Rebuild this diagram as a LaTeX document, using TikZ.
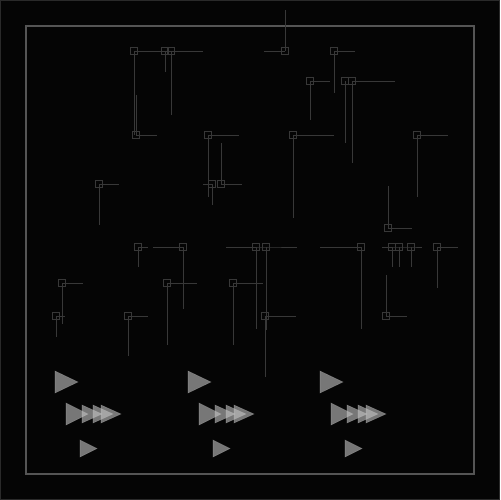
\documentclass[tikz,border=0pt]{standalone}
\usepackage{tikz}
\usetikzlibrary{calc}

\definecolor{bgcol}{HTML}{050505}
\definecolor{edgecol}{HTML}{2A2A2A}
\definecolor{framecol}{HTML}{555555}
\definecolor{wirecol}{HTML}{383838}
\definecolor{tipcol}{HTML}{C4C4C4}

\tikzset{
	marker/.style = {draw = wirecol, line width = 0.5pt, minimum size = 1.3mm, inner sep = 0pt, rectangle},
	wire/.style = {draw = wirecol, line width = 0.5pt},
	tip/.style = {fill = tipcol, fill opacity = 0.6, draw = tipcol, draw opacity = 0.3, line width = 0.3pt}
}

\begin{document}
\begin{tikzpicture}[x = 0.02cm, y = -0.02cm]
			\def\W{500};
			\def\M{26};

			\begin{scope}
				\fill [bgcol] (0,0) rectangle (\W,\W);
				\useasboundingbox (0,0) rectangle (\W,\W);
				\draw [edgecol, line width = 0.8pt] (0.7,0.7) rectangle (\W-0.7,\W-0.7);
				\draw [framecol, line width = 0.8pt] (\M,\M) rectangle (\W-\M,\W-\M);
			\end{scope}

			% markers
			\begin{scope}
				\node [marker] (a1) at (134,51) {};
				\node [marker] (a2) at (165,51) {};
				\node [marker] (a3) at (171,51) {};
				\node [marker] (a4) at (285,51) {};
				\node [marker] (a5) at (334,51) {};

				\node [marker] (b1) at (310,81) {};
				\node [marker] (b2) at (345,81) {};
				\node [marker] (b3) at (352,81) {};

				\node [marker] (c1) at (136,135) {};
				\node [marker] (c2) at (208,135) {};
				\node [marker] (c3) at (293,135) {};
				\node [marker] (c4) at (417,135) {};

				\node [marker] (d1) at (99,184) {};
				\node [marker] (d2) at (212,184) {};
				\node [marker] (d3) at (221,184) {};
				\node [marker] (d4) at (388,228) {};

				\node [marker] (e1) at (138,247) {};
				\node [marker] (e2) at (183,247) {};
				\node [marker] (e3) at (256,247) {};
				\node [marker] (e4) at (266,247) {};
				\node [marker] (e5) at (361,247) {};
				\node [marker] (e6) at (392,247) {};
				\node [marker] (e7) at (399,247) {};
				\node [marker] (e8) at (411,247) {};
				\node [marker] (e9) at (437,247) {};

				\node [marker] (f1) at (62,283) {};
				\node [marker] (f2) at (167,283) {};
				\node [marker] (f3) at (233,283) {};

				\node [marker] (g1) at (56,316) {};
				\node [marker] (g2) at (128,316) {};
				\node [marker] (g3) at (265,316) {};
				\node [marker] (g4) at (386,316) {};
			\end{scope}

			% wires
			\begin{scope}[wire]
				\draw (a1.center) -- (203,51);
				\draw (a1.center) -- ++(0,84);
				\draw (a2.center) -- ++(0,21);
				\draw (a3.center) -- ++(0,64);
				\draw (a4.center) -- ++(-21,0);
				\draw (a4.center) -- (285,10);
				\draw (a5.center) -- ++(21,0);
				\draw (a5.center) -- ++(0,42);

				\draw (b1.center) -- ++(20,0);
				\draw (b1.center) -- ++(0,39);
				\draw (b2.center) -- ++(0,62);
				\draw (b3.center) -- ++(43,0);
				\draw (b3.center) -- ++(0,82);

				\draw (c1.center) -- ++(21,0);
				\draw (c1.center) -- ++(0,-40);
				\draw (c2.center) -- ++(31,0);
				\draw (c2.center) -- ++(0,62);
				\draw (c3.center) -- ++(41,0);
				\draw (c3.center) -- ++(0,83);
				\draw (c4.center) -- ++(31,0);
				\draw (c4.center) -- ++(0,62);

				\draw (d1.center) -- ++(20,0);
				\draw (d1.center) -- ++(0,41);
				\draw (d2.center) -- ++(-9,0);
				\draw (d2.center) -- ++(0,21);
				\draw (d3.center) -- ++(21,0);
				\draw (d3.center) -- ++(0,-41);
				\draw (d4.center) -- ++(24,0);
				\draw (d4.center) -- ++(0,-42);

				\draw (e1.center) -- ++(10,0);
				\draw (e1.center) -- ++(0,20);
				\draw (e2.center) -- ++(-30,0);
				\draw (e2.center) -- ++(0,62);
				\draw (e3.center) -- ++(-30,0);
				\draw (e3.center) -- (e4.center) -- ++(31,0);
				\draw (e3.center) -- ++(0,82);
				\draw (e4.center) -- ++(0,83);
				\draw (e5.center) -- ++(-41,0);
				\draw (e5.center) -- ++(0,82);
				\draw (e6.center) -- ++(-10,0);
				\draw (e6.center) -- (e8.center) -- ++(11,0);
				\draw (e6.center) -- ++(0,20);
				\draw (e7.center) -- ++(0,20);
				\draw (e8.center) -- ++(0,20);
				\draw (e9.center) -- ++(21,0);
				\draw (e9.center) -- ++(0,41);

				\draw (f1.center) -- ++(21,0);
				\draw (f1.center) -- ++(0,41);
				\draw (f2.center) -- ++(30,0);
				\draw (f2.center) -- ++(0,62);
				\draw (f3.center) -- ++(30,0);
				\draw (f3.center) -- ++(0,62);

				\draw (g1.center) -- ++(9,0);
				\draw (g1.center) -- ++(0,21);
				\draw (g2.center) -- ++(20,0);
				\draw (g2.center) -- ++(0,40);
				\draw (g3.center) -- ++(31,0);
				\draw (g3.center) -- ++(0,61);
				\draw (g4.center) -- ++(21,0);
				\draw (g4.center) -- ++(0,-41);
			\end{scope}

			% arrow tips
			\foreach \dx in {0,133,265} {
				\begin{scope}[shift = {(\dx,0)}]
					\fill [tip] (55,371) -- (78,382) -- (55,393) -- cycle;

					\fill [tip] (66,403) -- (88,414) -- (66,425) -- cycle;
					\foreach \sx in {82,93,101}
						\fill [tip] (\sx,405) -- (\sx+20,414) -- (\sx,423) -- cycle;

					\fill [tip] (80,440) -- (97,448.5) -- (80,457) -- cycle;
				\end{scope}
			}
		\end{tikzpicture}
\end{document}
